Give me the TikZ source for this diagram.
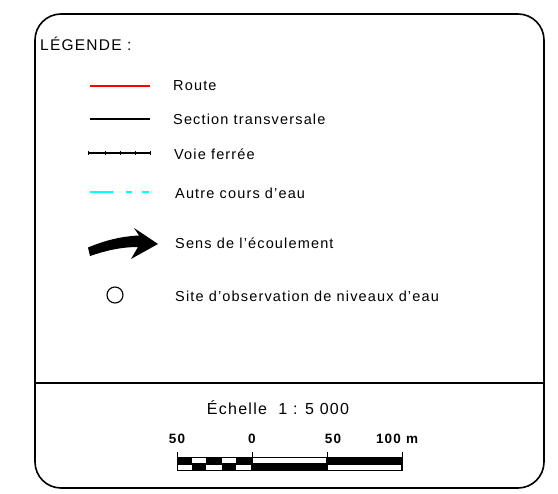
\documentclass[tikz,border=0pt]{standalone}
\usepackage{fontspec}
\setmainfont{Liberation Sans}[LetterSpace=8]
\definecolor{rd}{RGB}{255,0,0}
\definecolor{cy}{RGB}{0,255,255}
\begin{document}
\begin{tikzpicture}[x=1pt,y=-1pt,
  lbl/.style={anchor=west,inner sep=0pt,font=\fontsize{14.5}{16}\selectfont},
  num/.style={inner sep=0pt,font=\fontsize{13.5}{15}\selectfont\bfseries}]
\useasboundingbox (0,0) rectangle (558,494);
% frame
\draw[line width=1.6pt,rounded corners=26pt] (35,14) rectangle (544,488);
\coordinate (dl) at (35,383);
\coordinate (dr) at (544,383);
\draw[line width=1.2pt] (dl) -- (dr);
% title
\node[lbl,font=\fontsize{15.5}{17}\selectfont] (title) at (40,44) {LÉGENDE :};
% Route
\coordinate (r1) at (90,86); \coordinate (r2) at (150,86);
\draw[rd,line width=1.3pt] (r1) -- (r2);
\node[lbl] (troute) at (173,86) {Route};
% Section transversale
\coordinate (s1) at (90,119); \coordinate (s2) at (150,119);
\draw[line width=2.2pt] (s1) -- (s2);
\node[lbl] (tsec) at (173,119) {Section transversale};
% Voie ferree
\coordinate (v1) at (88,153); \coordinate (v2) at (150,153);
\draw[line width=1.2pt] (v1) -- (v2);
\foreach \x in {88,105,120,135,150} \draw[line width=0.7pt] (\x,151) -- (\x,155);
\node[lbl] (tvoie) at (174,154) {Voie ferrée};
% Autre cours d'eau
\coordinate (c1) at (90,192); \coordinate (c2) at (113,192);
\draw[cy,line width=1.4pt] (c1) -- (c2);
\draw[cy,line width=1.4pt] (126,192) -- (132,192);
\draw[cy,line width=1.4pt] (142,192) -- (149,192);
\node[lbl] (tautre) at (175,193) {Autre cours d'eau};
% flow arrow
\fill (88,247.5) .. controls (105,240.5) and (120,236.5) .. (139,235.5)
  -- (134,228) -- (158,244) -- (131,259) -- (138,247)
  .. controls (120,247) and (105,251) .. (90,256) -- cycle;
\node[lbl] (tsens) at (175,243) {Sens de l'écoulement};
% circle
\node[draw,circle,line width=1.1pt,minimum size=16pt,inner sep=0pt] (circ) at (115,295) {};
\node[lbl] (tsite) at (175,296) {Site d'observation de niveaux d'eau};
% scale
\node[inner sep=0pt,font=\fontsize{16}{18}\selectfont] (ech) at (278,408) {Échelle\ \ 1 : 5 000};
\node[num] (n50a) at (177,439) {50};
\node[num] (n0) at (252,439) {0};
\node[num] (n50b) at (333,439) {50};
\node[num,anchor=east] (n100) at (401,439) {100};
\node[num,anchor=west] (nm) at (406,440) {m};
\foreach \x in {177,252,327,402} \draw[line width=1pt] (\x,452) -- (\x,458);
\fill (176.5,457) rectangle (402.5,471);
\tikzset{wb/.style={fill=white}}
% left checker top row whites
\fill[wb] (192,458.3) rectangle (206,463.3);
\fill[wb] (222,458.3) rectangle (236,463.3);
% bottom row whites
\fill[wb] (178,465) rectangle (192,469.6);
\fill[wb] (206,465) rectangle (222,469.6);
\fill[wb] (236,465) rectangle (251,469.6);
% right part
\fill[wb] (253,458.3) rectangle (326,463.3);
\fill[wb] (328,465) rectangle (401,469.6);
\end{tikzpicture}
\end{document}
